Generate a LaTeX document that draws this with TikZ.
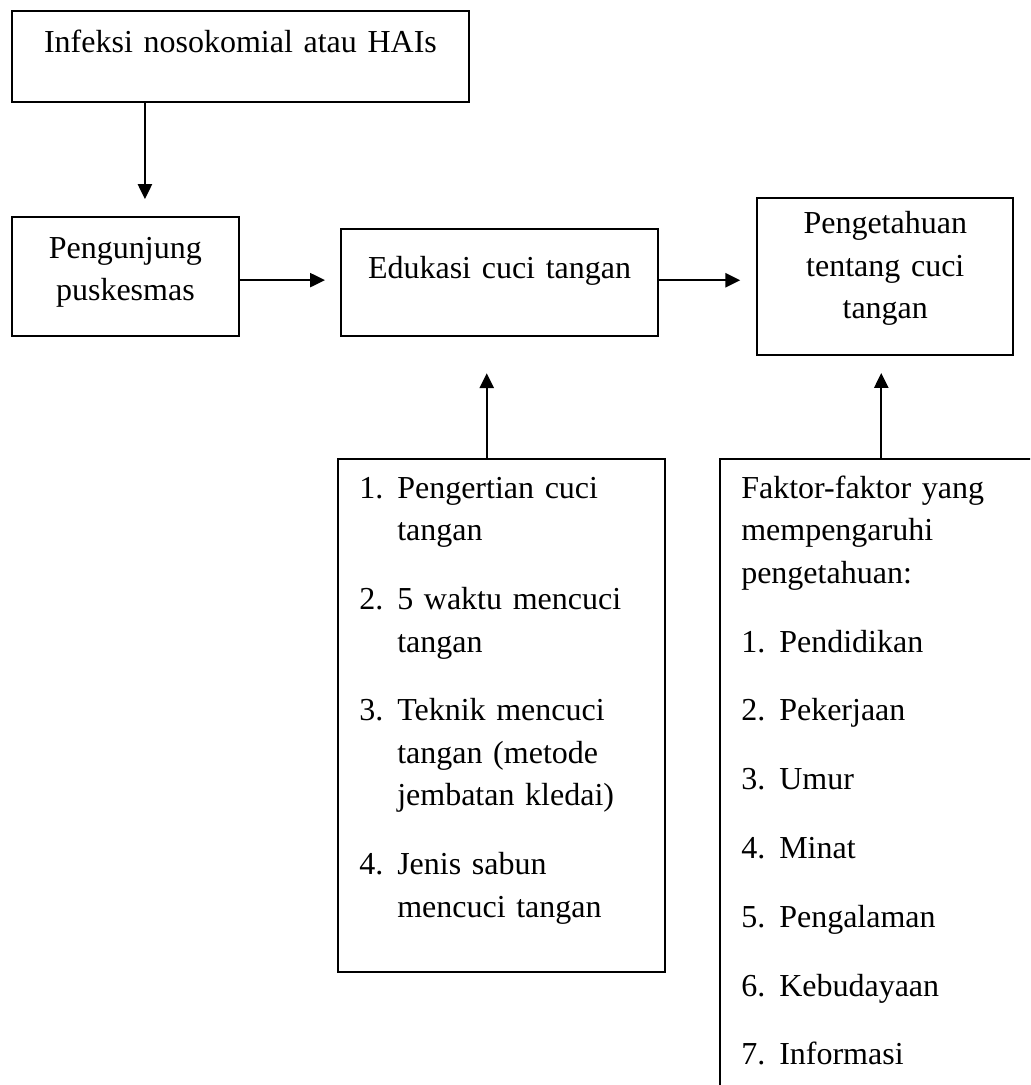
\documentclass[tikz,border=0pt]{standalone}
\usepackage{fontspec}
\setmainfont{Liberation Serif}
\usetikzlibrary{positioning,arrows.meta}

\newlength{\numwidth}
\setlength{\numwidth}{14.25pt}
\newlength{\itemgap}
\setlength{\itemgap}{9.86pt}
\newcommand{\numitem}[2]{\hangindent=\numwidth\hangafter=1\makebox[\numwidth][l]{#1}#2\par\vspace{\itemgap}}

\begin{document}
\begin{tikzpicture}[rect/.style={rectangle, draw=black, line width=0.75pt, inner xsep=0pt, inner ysep=0pt, font=\fontsize{12pt}{15.94pt}\selectfont},
    listbox/.style={rect, inner xsep=8pt, align=left, text height=14.6pt},
    arr/.style={line width=0.8pt, -{Triangle[length=5.6pt,width=5.3pt]}}]
    \useasboundingbox (0,0) rectangle (386.25pt,-406.875pt);
    \clip (0,0) rectangle (386.25pt,-406.875pt);

    % Nodes
    \node[rect, text width=171.4pt, align=center, text height=15.75pt, text depth=18.4pt, anchor=north west] (hais) at (4.1pt,-3.75pt) {Infeksi nosokomial atau HAIs};
    \node[rect, text width=85.1pt, align=center, text height=15.4pt, text depth=29.25pt] (visitor) [below=42.4pt of hais.south west, anchor=north west] {Pengunjung\\puskesmas};
    \node[rect, text width=119pt, align=center, text height=18.4pt, text depth=21.75pt] (edu) [right=37.5pt of visitor.south east, anchor=south west] {Edukasi cuci tangan};
    \node[rect, text width=96pt, align=center, text height=13.5pt, text depth=45.5pt] (know) [right=36.4pt of edu.east, yshift=2.4pt] {Pengetahuan\\tentang cuci\\tangan};

    \node[listbox, text width=106.6pt, text depth=177.75pt] (topics) [below=45.4pt of edu.south west, anchor=north west, xshift=-1.1pt] {%
        \numitem{1.}{Pengertian cuci\newline tangan}
        \numitem{2.}{5 waktu mencuci\newline tangan}
        \numitem{3.}{Teknik mencuci\newline tangan (metode\newline jembatan kledai)}
        \numitem{4.}{Jenis sabun\newline mencuci tangan}};
    \node[listbox, text width=108.9pt, text depth=227.6pt] (factors) [right=19.9pt of topics.north east, anchor=north west] {%
        Faktor-faktor yang\newline mempengaruhi\newline pengetahuan:\par\vspace{\itemgap}
        \numitem{1.}{Pendidikan}
        \numitem{2.}{Pekerjaan}
        \numitem{3.}{Umur}
        \numitem{4.}{Minat}
        \numitem{5.}{Pengalaman}
        \numitem{6.}{Kebudayaan}
        \numitem{7.}{Informasi}};

    % Arrows
    \draw[arr, shorten >=6.4pt] ([xshift=50.25pt]hais.south west) -- ([xshift=50.25pt]visitor.north west);
    \draw[arr, shorten >=5.6pt] ([yshift=-1.3pt]visitor.east) -- ([yshift=-1.3pt]visitor.east -| edu.west);
    \draw[arr, shorten >=6pt] ([yshift=0.9pt]edu.east) -- ([yshift=0.9pt]edu.east -| know.west);
    \draw[arr, shorten >=13.5pt] ([xshift=-5.5pt]topics.north) -- ([xshift=-5.5pt]topics.north |- edu.south);
    \draw[arr, shorten >=6.4pt] ([xshift=-1.5pt]know.south |- factors.north) -- ([xshift=-1.5pt]know.south);
\end{tikzpicture}
\end{document}
